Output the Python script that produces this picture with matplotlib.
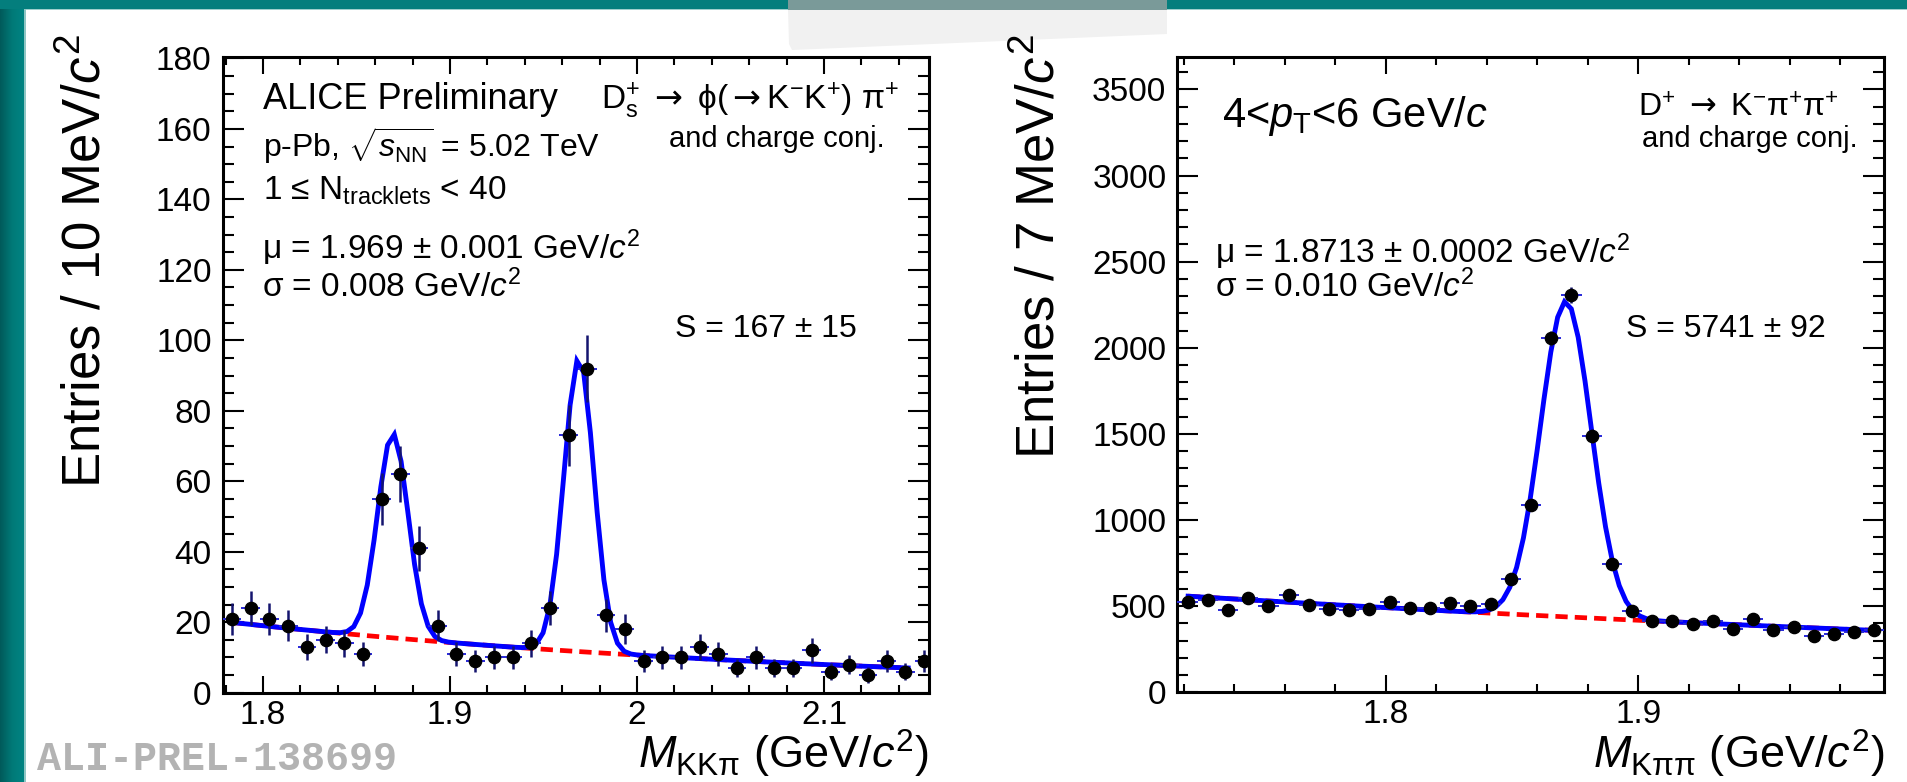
import numpy as np
import matplotlib
matplotlib.use("Agg")
import matplotlib.pyplot as plt
from matplotlib.patches import Rectangle, Polygon
from matplotlib.colors import LinearSegmentedColormap
from matplotlib.ticker import FixedLocator, FixedFormatter, MultipleLocator

plt.rcParams['font.family'] = ['Liberation Sans', 'DejaVu Sans']
plt.rcParams['mathtext.fontset'] = 'custom'
plt.rcParams['mathtext.rm'] = 'Liberation Sans'
plt.rcParams['mathtext.it'] = 'Liberation Sans:italic'
plt.rcParams['mathtext.bf'] = 'Liberation Sans:bold'
plt.rcParams['mathtext.sf'] = 'DejaVu Sans'

# ---------------- data: left panel (KK pi) ----------------
left_bin_lo = 1.7785
left_bin_width = 0.010
left_counts = [21, 24, 21, 19, 13, 15, 14, 11, 55, 62, 41, 19, 11, 9, 10, 10,
               14, 24, 73, 92, 22, 18, 9, 10, 10, 13, 11, 7, 10, 7, 7, 12,
               6, 8, 5, 9, 6, 9]
left_xlim = [1.7785, 2.1563]
left_ylim = [0, 180.5]
left_xticks = [1.8, 1.9, 2.0, 2.1]
left_xticklabels = ["1.8", "1.9", "2", "2.1"]
left_yticks = [0, 20, 40, 60, 80, 100, 120, 140, 160, 180]
# fit: exponential background + two gaussians (D+ and Ds+)
left_fit_range = [1.7835, 2.145]
left_bkg = [19.95, -2.89]          # value at fit start, slope
left_peak_mean = [1.8695, 1.969]
left_peak_sigma = [0.0082, 0.008]
left_peak_amp = [58.0, 83.3]

# ---------------- data: right panel (K pi pi) ----------------
right_bin_lo = 1.7175
right_bin_width = 0.008
right_counts = [523, 538, 480, 548, 503, 567, 507, 484, 476, 484, 523, 488,
                488, 519, 499, 513, 655, 1086, 2054, 2307, 1487, 746, 470, 416,
                412, 396, 412, 367, 425, 359, 377, 328, 338, 348, 363]
right_xlim = [1.7175, 1.9974]
right_ylim = [0, 3690]
right_xticks = [1.8, 1.9]
right_xticklabels = ["1.8", "1.9"]
right_yticks = [0, 500, 1000, 1500, 2000, 2500, 3000, 3500]
right_fit_range = [1.7217, 1.9927]
right_bkg = [557.6, -1.621]
right_peak_mean = [1.8713]
right_peak_sigma = [0.010]
right_peak_amp = [1832.0]

W, H = 1908, 782
fig = plt.figure(figsize=(W / 100, H / 100), dpi=100, facecolor='white')


def fx(x):
    return x / W


def fy(y):
    return 1 - y / H


# ---------------- background decoration ----------------
bg = fig.add_axes([0, 0, 1, 1], zorder=-10)
bg.set_xlim(0, W)
bg.set_ylim(H, 0)
bg.axis('off')
grad = np.linspace(0, 1, 64)[None, :]
tealmap = LinearSegmentedColormap.from_list('teal', ['#005a5a', '#007a78', '#008483'])
bg.imshow(grad, extent=(0, 25, H, 0), aspect='auto', cmap=tealmap, zorder=1)
bg.add_patch(Rectangle((0, 0), W, 9, color='#047e7d', zorder=2, lw=0))
bg.add_patch(Rectangle((25, 9), W, 1.2, color='#9fcfcd', zorder=2, lw=0))
bg.add_patch(Rectangle((24.5, 9), 1.2, H, color='#8fc6c4', zorder=2, lw=0))
bg.add_patch(Polygon([(788, 9), (1167, 9), (1167, 34), (792, 50), (789, 44)],
                     closed=True, color='#f1f1f1', lw=0, zorder=3))
bg.add_patch(Rectangle((788, 0), 379, 9.5, color='#7a9a99', zorder=3, lw=0))


def model(x, bkg, x0, means, sigmas, amps):
    y = bkg[0] * np.exp(bkg[1] * (x - x0))
    for m, s, a in zip(means, sigmas, amps):
        y = y + a * np.exp(-0.5 * ((x - m) / s) ** 2)
    return y


def background(x, bkg, x0):
    return bkg[0] * np.exp(bkg[1] * (x - x0))


def style(ax):
    for s in ax.spines.values():
        s.set_linewidth(2.2)
    ax.tick_params(which='both', direction='in', top=True, right=True,
                   width=1.5, labelsize=24, colors='black')
    ax.tick_params(axis='x', which='major', length=12.2, pad=5)
    ax.tick_params(axis='x', which='minor', length=6)
    ax.tick_params(axis='y', which='major', length=15, pad=8)
    ax.tick_params(axis='y', which='minor', length=7.7)


def draw_panel(ax, lo, width, counts, xlim, ylim, fit_range, bkg, means, sigmas, amps):
    counts = np.array(counts, dtype=float)
    centers = lo + width * (np.arange(len(counts)) + 0.5)
    xf = np.linspace(fit_range[0], fit_range[1], 101)
    ax.plot(xf, background(xf, bkg, fit_range[0]), color='#ff0000', lw=3.4,
            dashes=(2.6, 1.5), zorder=2)
    ax.plot(xf, model(xf, bkg, fit_range[0], means, sigmas, amps), color='#0000ff',
            lw=3.5, zorder=3, solid_joinstyle='miter')
    ax.errorbar(centers, counts, xerr=width / 2, fmt='none', ecolor='#2828d8',
                elinewidth=1.4, capsize=0, zorder=4)
    ax.errorbar(centers, counts, yerr=np.sqrt(counts), fmt='none', ecolor='#14146e',
                elinewidth=1.8, capsize=0, zorder=4)
    ax.plot(centers, counts, 'o', color='black', ms=8.8, zorder=5)
    ax.set_xlim(*xlim)
    ax.set_ylim(*ylim)


# ---------------- left panel ----------------
ax1 = fig.add_axes([fx(222.7), fy(692.7), (929.3 - 222.7) / W, (692.7 - 56.7) / H])
draw_panel(ax1, left_bin_lo, left_bin_width, left_counts, left_xlim, left_ylim,
           left_fit_range, left_bkg, left_peak_mean, left_peak_sigma, left_peak_amp)
style(ax1)
ax1.xaxis.set_major_locator(FixedLocator(left_xticks))
ax1.xaxis.set_major_formatter(FixedFormatter(left_xticklabels))
ax1.xaxis.set_minor_locator(MultipleLocator(0.02))
ax1.yaxis.set_major_locator(FixedLocator(left_yticks))
ax1.yaxis.set_minor_locator(MultipleLocator(5))

# ---------------- right panel ----------------
ax2 = fig.add_axes([fx(1177.5), fy(692.2), (1884.3 - 1177.5) / W, (692.2 - 56.7) / H])
draw_panel(ax2, right_bin_lo, right_bin_width, right_counts, right_xlim, right_ylim,
           right_fit_range, right_bkg, right_peak_mean, right_peak_sigma, right_peak_amp)
style(ax2)
ax2.xaxis.set_major_locator(FixedLocator(right_xticks))
ax2.xaxis.set_major_formatter(FixedFormatter(right_xticklabels))
ax2.xaxis.set_minor_locator(FixedLocator(np.round(np.arange(1.72, 1.999, 0.02), 3)))
ax2.yaxis.set_major_locator(FixedLocator(right_yticks))
ax2.yaxis.set_minor_locator(MultipleLocator(100))


def t(x, y, s, size, ha='left', **kw):
    fig.text(fx(x), fy(y), s, fontsize=size, ha=ha, va='baseline', **kw)


ARROW = r"$\mathsf{\rightarrow}$"

# left texts
t(263, 109, "ALICE Preliminary", 26)
t(899, 109, r"D$_{\mathrm{s}}^{+}$ " + ARROW + r" ϕ(" + ARROW + r"K$^{-}$K$^{+}$) π$^{+}$",
  24, ha='right')
t(885, 147, "and charge conj.", 21, ha='right')
t(263, 157, r"p-Pb, $\sqrt{s_{\mathrm{NN}}}$ = 5.02 TeV", 23)
t(263, 200, r"1 ≤ N$_{\mathrm{tracklets}}$ < 40", 24)
t(262, 259, r"μ = 1.969 ± 0.001 GeV/$c^{2}$", 24)
t(262, 297, r"σ = 0.008 GeV/$c^{2}$", 24)
t(675, 337, "S = 167 ± 15", 23)

# right texts
t(1222, 127, r"4<$p_{\mathrm{T}}$<6 GeV/$c$", 30)
t(1839, 117, r"D$^{+}$ " + ARROW + r" K$^{-}$π$^{+}$π$^{+}$", 23, ha='right')
t(1858, 147, "and charge conj.", 21, ha='right')
t(1215, 263, r"μ = 1.8713 ± 0.0002 GeV/$c^{2}$", 24)
t(1215, 297, r"σ = 0.010 GeV/$c^{2}$", 24)
t(1626, 337, "S = 5741 ± 92", 23)

# axis titles
fig.text(fx(86), fy(34), r"Entries / 10 MeV/$c^{2}$", fontsize=38, rotation=90,
         ha='center', va='top')
fig.text(fx(1040), fy(34), r"Entries / 7 MeV/$c^{2}$", fontsize=38, rotation=90,
         ha='center', va='top')
t(929, 769, r"$M_{\mathrm{KKπ}}$ (GeV/$c^{2}$)", 32.5, ha='right')
t(1884, 769, r"$M_{\mathrm{Kππ}}$ (GeV/$c^{2}$)", 32.5, ha='right')

# preliminary id
fig.text(fx(37), fy(770), "ALI-PREL-138699", family='Liberation Mono', weight='bold',
         fontsize=28.8, color='#b3b3b3', va='baseline', ha='left')

fig.savefig("out.png", dpi=100, facecolor='white')
